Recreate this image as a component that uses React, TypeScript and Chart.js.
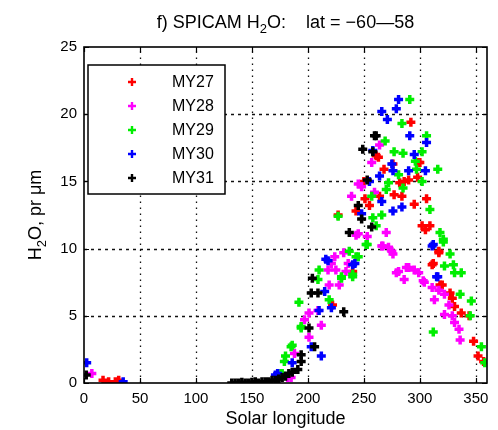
import React, { useEffect, useRef } from "react";
import { Chart, registerables } from "chart.js";

Chart.register(...registerables);

const seriesNames = ["MY27", "MY28", "MY29", "MY30", "MY31"];
const seriesColors = ["#ff0000", "#ff00ff", "#00ee00", "#0000ff", "#000000"];

const xTickValues = [0, 50, 100, 150, 200, 250, 300, 350];
const yTickValues = [0, 5, 10, 15, 20, 25];

const my27Ls = [17, 22, 28, 31, 222, 227, 240, 243, 250, 251, 255, 261, 263, 264, 268, 276, 277, 282, 284, 286, 290, 292, 295, 298, 299, 300, 302, 306, 309, 305, 311, 312, 317, 317, 318, 320, 327, 329, 331, 337, 344, 348, 352, 357];
const my27H = [0.2, 0.1, 0.1, 0.2, 5.8, 12.5, 8.3, 12.8, 15.0, 13.7, 13.2, 16.9, 16.8, 13.9, 15.9, 16.3, 14.0, 14.9, 13.9, 15.0, 15.1, 19.4, 13.3, 15.3, 16.4, 16.4, 11.7, 13.7, 11.7, 11.4, 8.8, 8.9, 9.7, 9.8, 7.3, 7.3, 6.7, 6.3, 5.7, 5.2, 5.0, 3.1, 2.0, 1.6];

const my28Ls = [7, 182, 185, 188, 197, 201, 201, 209, 212, 218, 219, 221, 224, 225, 228, 232, 234, 236, 239, 243, 245, 245, 248, 253, 257, 259.5, 264, 266, 267, 270, 272, 275, 276, 279, 281, 286, 288, 290, 295, 299, 303, 304, 311, 313, 317, 322, 322, 326, 329, 331, 335, 336];
const my28H = [0.7, 0.4, 0.4, 2.2, 4.7, 3.4, 5.2, 5.4, 4.3, 8.4, 7.3, 8.9, 9.4, 8.4, 7.3, 9.7, 8.3, 8.9, 13.9, 11.0, 11.1, 14.8, 14.6, 10.9, 16.4, 14.2, 17.7, 10.2, 10.2, 11.2, 10.1, 9.8, 9.6, 8.2, 8.3, 7.7, 8.6, 8.6, 8.4, 8.2, 7.6, 7.5, 7.1, 6.2, 6.9, 6.6, 5.1, 5.8, 5.0, 4.5, 4.0, 3.2];

const my29Ls = [176, 177, 179, 180, 185, 186, 192, 194, 194, 209, 210, 219, 227, 230, 230, 237, 240, 240, 243, 245, 252, 253, 257, 258, 261, 266, 269, 270, 272, 277, 281, 284, 285, 285, 291, 296, 297, 302, 302, 306, 309, 312, 316, 318, 321, 321, 322, 327, 330, 331, 336, 337, 345, 346, 355, 358];
const my29H = [0.7, 0.7, 1.6, 2.0, 2.7, 2.8, 6.0, 4.2, 4.1, 7.7, 8.4, 6.2, 12.4, 7.8, 7.9, 9.8, 7.9, 8.1, 9.4, 9.4, 10.3, 10.3, 13.9, 12.3, 11.7, 12.5, 18.0, 14.4, 14.9, 17.2, 15.5, 19.3, 17.1, 14.5, 21.1, 16.5, 15.9, 17.2, 15.0, 18.4, 12.9, 3.8, 15.9, 11.2, 10.7, 10.5, 8.7, 9.6, 8.8, 8.2, 6.6, 8.2, 5.0, 6.1, 2.7, 1.5];

const my30Ls = [2.4, 35, 171, 173, 186, 203, 210, 212, 215, 216, 218, 221, 240, 242, 248, 255, 258, 264, 266, 266, 271, 275, 276, 276, 279, 281, 284, 290, 291, 295, 305, 306, 311, 312, 315, 316];
const my30H = [1.5, 0.1, 0.6, 0.7, 1.5, 2.7, 5.4, 2.0, 6.8, 9.2, 9.1, 5.6, 8.8, 8.9, 12.6, 15.0, 17.3, 15.4, 13.5, 20.2, 19.6, 16.3, 15.8, 12.8, 20.4, 21.1, 13.1, 15.8, 18.4, 17.0, 15.8, 17.9, 10.2, 10.3, 7.9, 7.9];

const my31Ls = [2, 132, 135, 138, 141, 144, 147, 150, 153, 156, 159, 162, 165, 168, 171, 174, 177, 180, 183, 186, 191, 194, 194, 201, 203, 204, 206, 209, 232, 237, 245, 248, 249, 253, 257, 258, 259.5, 261];
const my31H = [0.6, 0.0, 0.0, 0.0, 0.05, 0.0, 0.0, 0.05, 0.1, 0.0, 0.1, 0.1, 0.1, 0.2, 0.2, 0.3, 0.4, 0.5, 0.7, 0.8, 1.0, 1.6, 2.1, 4.1, 6.7, 7.8, 2.7, 6.7, 5.3, 11.2, 13.2, 12.2, 17.4, 15.1, 11.6, 17.2, 18.4, 18.4];

const seriesLs = [my27Ls, my28Ls, my29Ls, my30Ls, my31Ls];
const seriesH = [my27H, my28H, my29H, my30H, my31H];

const FONT = "'Liberation Sans', Arial, sans-serif";

function drawPlus(ctx: CanvasRenderingContext2D, x: number, y: number, r: number, color: string, w: number) {
  ctx.save();
  ctx.strokeStyle = color;
  ctx.lineWidth = w;
  ctx.beginPath();
  ctx.moveTo(x - r, y);
  ctx.lineTo(x + r, y);
  ctx.moveTo(x, y - r);
  ctx.lineTo(x, y + r);
  ctx.stroke();
  ctx.restore();
}

function drawSubText(ctx: CanvasRenderingContext2D, parts: string[], cx: number, y: number, big: number, small: number) {
  const tFont = `${big}px ${FONT}`;
  const sFont = `${small}px ${FONT}`;
  ctx.font = tFont;
  const w1 = ctx.measureText(parts[0]).width;
  const w3 = ctx.measureText(parts[2]).width;
  ctx.font = sFont;
  const w2 = ctx.measureText(parts[1]).width;
  let x = cx - (w1 + w2 + w3) / 2;
  ctx.textAlign = "left";
  ctx.font = tFont;
  ctx.fillText(parts[0], x, y);
  x += w1;
  ctx.font = sFont;
  ctx.fillText(parts[1], x, y + big * 0.3);
  x += w2;
  ctx.font = tFont;
  ctx.fillText(parts[2], x, y);
}

const decorPlugin = {
  id: "decor",
  beforeDatasetsDraw(chart: any) {
    const ctx = chart.ctx as CanvasRenderingContext2D;
    const { left, right, top, bottom } = chart.chartArea;
    const xs = chart.scales.x;
    const ys = chart.scales.y;
    ctx.save();
    ctx.strokeStyle = "#111";
    ctx.lineWidth = 1.3;
    ctx.setLineDash([1.5, 4.5]);
    for (const v of xTickValues) {
      if (v === 0) continue;
      const px = Math.round(xs.getPixelForValue(v)) + 0.5;
      ctx.beginPath();
      ctx.moveTo(px, bottom);
      ctx.lineTo(px, top);
      ctx.stroke();
    }
    ctx.setLineDash([3, 4]);
    for (const v of yTickValues) {
      if (v === 0 || v === 25) continue;
      const py = Math.round(ys.getPixelForValue(v)) + 0.5;
      ctx.beginPath();
      ctx.moveTo(left, py);
      ctx.lineTo(right, py);
      ctx.stroke();
    }
    ctx.restore();
  },
  afterDraw(chart: any) {
    const ctx = chart.ctx as CanvasRenderingContext2D;
    const { left, right, top, bottom } = chart.chartArea;
    const xs = chart.scales.x;
    const ys = chart.scales.y;
    ctx.save();
    ctx.strokeStyle = "#000";
    ctx.lineWidth = 1.6;
    ctx.strokeRect(left, top, right - left, bottom - top);
    ctx.lineWidth = 1.2;
    const tl = 5;
    for (const v of xTickValues) {
      const px = Math.round(xs.getPixelForValue(v)) + 0.5;
      ctx.beginPath();
      ctx.moveTo(px, bottom);
      ctx.lineTo(px, bottom - tl);
      ctx.moveTo(px, top);
      ctx.lineTo(px, top + tl);
      ctx.stroke();
    }
    for (const v of yTickValues) {
      const py = Math.round(ys.getPixelForValue(v)) + 0.5;
      ctx.beginPath();
      ctx.moveTo(left, py);
      ctx.lineTo(left + tl, py);
      ctx.moveTo(right, py);
      ctx.lineTo(right - tl, py);
      ctx.stroke();
    }

    ctx.fillStyle = "#000";
    ctx.textBaseline = "alphabetic";
    // title
    drawSubText(ctx, ["f) SPICAM H", "2", "O:    lat = \u221260\u201458"], (left + right) / 2, 28, 18, 13);

    // x label
    ctx.font = `18px ${FONT}`;
    ctx.textAlign = "center";
    ctx.fillText("Solar longitude", (left + right) / 2, 424);

    // y label
    ctx.save();
    ctx.translate(41, (top + bottom) / 2);
    ctx.rotate(-Math.PI / 2);
    drawSubText(ctx, ["H", "2", "O, pr \u03bcm"], 0, 0, 18, 13);
    ctx.restore();

    // legend
    const lx = 88, ly = 65, lw = 137, lh = 129;
    ctx.fillStyle = "#fff";
    ctx.fillRect(lx, ly, lw, lh);
    ctx.strokeStyle = "#000";
    ctx.lineWidth = 1.5;
    ctx.strokeRect(lx, ly, lw, lh);
    ctx.font = `16px ${FONT}`;
    ctx.textAlign = "left";
    ctx.textBaseline = "middle";
    chart.data.datasets.forEach((ds: any, i: number) => {
      const ry = 82 + i * 24;
      drawPlus(ctx, 132, ry, 4, ds.borderColor, 2.4);
      ctx.fillStyle = "#000";
      ctx.fillText(ds.label, 172, ry + 1);
    });
    ctx.restore();
  },
};

export default function App() {
  const ref = useRef<HTMLCanvasElement | null>(null);
  useEffect(() => {
    document.body.style.margin = "0";
    const canvas = ref.current;
    if (!canvas) return;
    const datasets = seriesNames.map((name, i) => ({
      label: name,
      data: seriesLs[i].map((x, j) => ({ x, y: seriesH[i][j] })),
      borderColor: seriesColors[i],
      backgroundColor: seriesColors[i],
      pointStyle: "cross" as const,
      pointRadius: 4.5,
      pointBorderWidth: 3.5,
      showLine: false,
      order: 5 - i,
    }));
    const chart = new Chart(canvas, {
      type: "scatter",
      data: { datasets },
      options: {
        animation: false,
        responsive: false,
        devicePixelRatio: 1,
        layout: { padding: { left: 0, right: 11, top: 47, bottom: 0 } },
        plugins: {
          legend: { display: false },
          title: { display: false },
          tooltip: { enabled: false },
        },
        scales: {
          x: {
            type: "linear",
            min: 0,
            max: 360,
            afterBuildTicks: (s: any) => {
              s.ticks = xTickValues.map((v) => ({ value: v }));
            },
            afterFit: (s: any) => {
              s.height = 47;
            },
            grid: { display: false, drawTicks: false },
            border: { display: false },
            ticks: {
              color: "#000",
              font: { family: FONT, size: 15 },
              padding: 7,
              maxRotation: 0,
              autoSkip: false,
            },
          },
          y: {
            type: "linear",
            min: 0,
            max: 25,
            afterBuildTicks: (s: any) => {
              s.ticks = yTickValues.map((v) => ({ value: v }));
            },
            afterFit: (s: any) => {
              s.width = 84;
            },
            grid: { display: false, drawTicks: false },
            border: { display: false },
            ticks: {
              color: "#000",
              font: { family: FONT, size: 15 },
              padding: 7,
              autoSkip: false,
            },
          },
        },
      },
      plugins: [decorPlugin],
    });
    return () => chart.destroy();
  }, []);
  return <canvas ref={ref} width={498} height={430} style={{ display: "block" }} />;
}
